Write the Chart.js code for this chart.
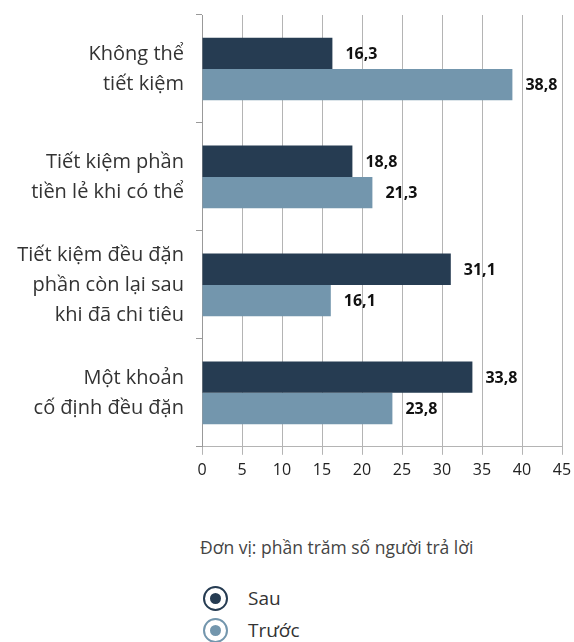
<!DOCTYPE html>
<html lang="vi">
<head>
<meta charset="utf-8">
<script src="https://cdn.jsdelivr.net/npm/chart.js@4"></script>
<style>
  body { margin: 0; background: #fff; font-family: "Open Sans", sans-serif; }
  #wrap { position: relative; width: 574px; height: 642px; }
  #box { position: absolute; left: 0; top: 0; width: 574px; height: 500px; }
  #note { position: absolute; left: 200px; top: 535px; font-size: 17.5px; color: #444; }
  .item { position: absolute; left: 203px; height: 26px; display: flex; align-items: center; font-size: 19px; color: #333; }
  .ring { width: 21px; height: 21px; border: 2px solid; border-radius: 50%; display: flex; align-items: center; justify-content: center; margin-right: 20px; }
  .dot { width: 11px; height: 11px; border-radius: 50%; }
</style>
</head>
<body>
<div id="wrap">
  <div id="box"><canvas id="savingChart"></canvas></div>
  <div id="note">Đơn vị: phần trăm số người trả lời</div>
  <div id="legend"></div>
</div>
<script>
// Data
const categories = [
    ["Không thể", "tiết kiệm"],
    ["Tiết kiệm phần", "tiền lẻ khi có thể"],
    ["Tiết kiệm đều đặn", "phần còn lại sau", "khi đã chi tiêu"],
    ["Một khoản", "cố định đều đặn"],
];
const sauValues = [16.3, 18.8, 31.1, 33.8];
const truocValues = [38.8, 21.3, 16.1, 23.8];
const seriesNames = ["Sau", "Trước"];
const seriesColors = ["#263c52", "#7396ad"];

// Value labels at bar ends
const valueLabels = {
    id: "valueLabels",
    afterDatasetsDraw(chart) {
        const ctx = chart.ctx;
        ctx.save();
        ctx.font = "bold 16px 'Open Sans', sans-serif";
        ctx.fillStyle = "#111";
        ctx.textBaseline = "middle";
        chart.data.datasets.forEach((ds, i) => {
            chart.getDatasetMeta(i).data.forEach((bar, j) => {
                const text = ds.data[j].toFixed(1).replace(".", ",");
                const w = ctx.measureText(text).width;
                const x = Math.min(bar.x + 13, chart.chartArea.right - 4 - w);
                ctx.fillText(text, x, bar.y + 1);
            });
        });
        ctx.restore();
    },
};

function renderChart() {
    const ctx = document.getElementById("savingChart").getContext("2d");
    new Chart(ctx, {
        type: "bar",
        data: {
            labels: categories,
            datasets: [
                { label: seriesNames[0], data: sauValues, backgroundColor: seriesColors[0] },
                { label: seriesNames[1], data: truocValues, backgroundColor: seriesColors[1] },
            ],
        },
        options: {
            indexAxis: "y",
            responsive: true,
            maintainAspectRatio: false,
            animation: false,
            categoryPercentage: 0.58,
            barPercentage: 1,
            layout: { padding: { top: 15, right: 12, left: 0, bottom: 14 } },
            plugins: {
                legend: { display: false },
                tooltip: { enabled: false },
            },
            scales: {
                x: {
                    min: 0,
                    max: 45,
                    afterFit(scale) {
                        scale.paddingLeft = 0;
                        scale.paddingRight = 0;
                    },
                    ticks: {
                        stepSize: 5,
                        color: "#222",
                        padding: 6,
                        font: { family: "'Open Sans', sans-serif", size: 16 },
                    },
                    grid: { color: "#b4b4b4", lineWidth: 1, tickLength: 8 },
                    border: { color: "#b4b4b4" },
                },
                y: {
                    afterFit(scale) {
                        scale.width = 202;
                        scale.paddingTop = 0;
                        scale.paddingBottom = 0;
                    },
                    ticks: {
                        color: "#333",
                        padding: 12,
                        font: { family: "'Open Sans', sans-serif", size: 20, lineHeight: 1.5 },
                    },
                    grid: { drawOnChartArea: false, color: "#999", tickLength: 6 },
                    border: { color: "#999" },
                },
            },
        },
        plugins: [valueLabels],
    });
}

function renderLegend() {
    const legend = document.getElementById("legend");
    seriesNames.forEach((name, i) => {
        const item = document.createElement("div");
        item.className = "item";
        item.style.top = (585 + i * 32) + "px";
        item.innerHTML = '<span class="ring" style="border-color:' + seriesColors[i] +
            '"><span class="dot" style="background:' + seriesColors[i] + '"></span></span>' + name;
        legend.appendChild(item);
    });
}

document.addEventListener("DOMContentLoaded", () => {
    renderChart();
    renderLegend();
});
</script>
</body>
</html>
